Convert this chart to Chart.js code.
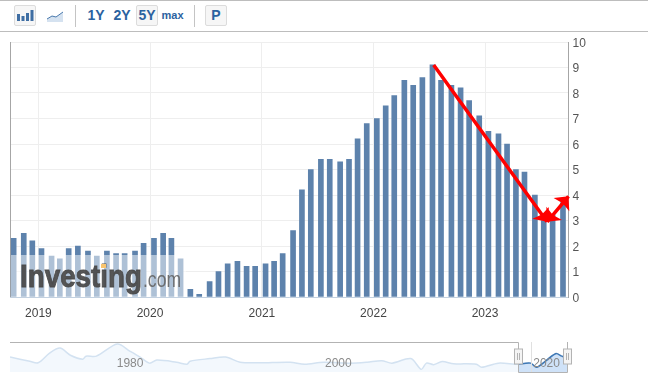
<!DOCTYPE html>
<html>
<head>
<meta charset="utf-8">
<script src="https://cdn.jsdelivr.net/npm/chart.js@4"></script>
<style>
body { margin: 0; background: #fff; font-family: "Liberation Sans", Arial, sans-serif; }
#page { position: relative; width: 648px; height: 379px; overflow: hidden; }
#page canvas { position: absolute; left: 0; }
.rule { position: absolute; left: 0; width: 648px; height: 1px; background: #bdbdbd; }
.sep { position: absolute; top: 5px; width: 1px; height: 22px; background: #c4c4c4; }
.btn { position: absolute; top: 5px; height: 21px; line-height: 21px; text-align: center; color: #2b62a0; font-size: 14px; font-weight: bold; box-sizing: border-box; }
.box { border: 1px solid #dcdcdc; background: #f6f6f6; border-radius: 2px; line-height: 19px; }
</style>
</head>
<body>
<div id="page">
  <div class="rule" style="top:0"></div>
  <div class="rule" style="top:31px"></div>
  <div class="btn box" style="left:14px;width:22px">
    <svg width="20" height="19" style="display:block"><path fill="#3f6ea3" d="M2 8h3v7H2zM6.500 10h3v5h-3zM11 7h3v8h-3zM15.500 4h3v11h-3z"/></svg>
  </div>
  <div class="btn" style="left:46px;width:18px">
    <svg width="18" height="21" style="display:block"><path fill="#d5e2f0" d="M1 14l5-3 4 1 7-5v10H1z"/><path fill="none" stroke="#4a79ad" d="M1 14l5-3 4 1 7-5"/></svg>
  </div>
  <div class="sep" style="left:75px"></div>
  <div class="btn" style="left:86px;width:20px">1Y</div>
  <div class="btn" style="left:112px;width:20px">2Y</div>
  <div class="btn box" style="left:136px;width:22px">5Y</div>
  <div class="btn" style="left:160px;width:25px;font-size:11px">max</div>
  <div class="sep" style="left:194px"></div>
  <div class="btn box" style="left:205px;width:22px">P</div>
  <canvas id="mainChart" width="648" height="335" style="top:0"></canvas>
  <canvas id="navChart" width="648" height="44" style="top:335px"></canvas>
</div>
<script>
// release dates of each monthly print
const releaseDates = [
    '2018-10-12', '2018-11-14', '2018-12-12',
    '2019-01-11', '2019-02-13', '2019-03-12', '2019-04-10', '2019-05-10', '2019-06-12',
    '2019-07-11', '2019-08-13', '2019-09-12', '2019-10-10', '2019-11-13', '2019-12-11',
    '2020-01-14', '2020-02-13', '2020-03-11', '2020-04-10', '2020-05-12', '2020-06-10',
    '2020-07-14', '2020-08-12', '2020-09-11', '2020-10-13', '2020-11-12', '2020-12-10',
    '2021-01-13', '2021-02-10', '2021-03-10', '2021-04-13', '2021-05-12', '2021-06-10',
    '2021-07-13', '2021-08-11', '2021-09-14', '2021-10-13', '2021-11-10', '2021-12-10',
    '2022-01-12', '2022-02-10', '2022-03-10', '2022-04-12', '2022-05-11', '2022-06-10',
    '2022-07-13', '2022-08-10', '2022-09-13', '2022-10-13', '2022-11-10', '2022-12-13',
    '2023-01-12', '2023-02-14', '2023-03-14', '2023-04-12', '2023-05-10', '2023-06-13',
    '2023-07-12', '2023-08-10', '2023-09-13'
];
const cpiValues = [
    2.3, 2.5, 2.2,
    1.9, 1.6, 1.5, 1.9, 2.0, 1.8, 1.6, 1.8, 1.7, 1.7, 1.8, 2.1,
    2.3, 2.5, 2.3, 1.5, 0.3, 0.1, 0.6, 1.0, 1.3, 1.4, 1.2, 1.2,
    1.3, 1.4, 1.7, 2.6, 4.2, 5.0, 5.4, 5.4, 5.3, 5.4, 6.2, 6.8,
    7.0, 7.5, 7.9, 8.5, 8.3, 8.6, 9.1, 8.5, 8.3, 8.2, 7.7, 7.1,
    6.5, 6.4, 6.0, 5.0, 4.9, 4.0, 3.0, 3.2, 3.7
];
const yearTicks = ['2019-01-01', '2020-01-01', '2021-01-01', '2022-01-01', '2023-01-01'];
const xRange = ['2018-09-30', '2023-10-01'];
const yRange = [0, 10];

// the hand drawn red arrows, date and value of each end
const arrowDates = ['2022-07-17', '2023-07-23', '2023-10-01'];
const arrowValues = [9.1, 2.95, 3.95];

// overview strip at the bottom
const navYears = [
    1970, 1971.9, 1972.7, 1973.8, 1974.8, 1975.8, 1977, 1977.3, 1978.3, 1980.3, 1981.5, 1982.5,
    1983.4, 1984.1, 1986, 1987, 1987.3, 1989.2, 1990.7, 1992.1, 1994, 1996.9, 1998.3, 2000.1,
    2002.7, 2004.3, 2005.7, 2006.7, 2008.5, 2009.5, 2010, 2010.7, 2011.5, 2012.6, 2014.8, 2015.3,
    2016.9, 2018.8, 2020, 2020.6, 2022.4, 2023, 2023.5
];
const navValues = [
    7.9, 5.7, 4.9, 10, 12.7, 8.9, 6.8, 8.4, 8.4, 14.8, 11.1, 7.9,
    4.7, 6.3, 5.2, 4.1, 5.7, 7.1, 7.9, 5.2, 4.9, 5.2, 4.1, 5.2,
    4.7, 5.2, 6, 4.7, 7.1, 1.4, 4.7, 3.9, 5.5, 4.4, 4.1, 2.5,
    4.7, 4.1, 4.7, 2.5, 9.7, 8.4, 7.3
];
const navLabels = ['1980', '2000', '2020'];
const navSelectFrom = 2018.8;

const toMs = s => Date.parse(s + 'T00:00:00Z');

function drawArrowHead(ctx, fromX, fromY, toX, toY, size) {
    const a = Math.atan2(toY - fromY, toX - fromX);
    ctx.beginPath();
    ctx.moveTo(toX, toY);
    ctx.lineTo(toX - size * Math.cos(a - 0.75), toY - size * Math.sin(a - 0.75));
    ctx.lineTo(toX - size * 0.6 * Math.cos(a), toY - size * 0.6 * Math.sin(a));
    ctx.lineTo(toX - size * Math.cos(a + 0.75), toY - size * Math.sin(a + 0.75));
    ctx.closePath();
    ctx.fill();
}

const leftEdge = {
    id: 'leftEdge',
    beforeDatasetsDraw(chart) {
        const { ctx, chartArea: { left, top, bottom } } = chart;
        ctx.save();
        ctx.strokeStyle = '#a6a6a6';
        ctx.beginPath();
        ctx.moveTo(left + 0.5, top);
        ctx.lineTo(left + 0.5, bottom);
        ctx.stroke();
        ctx.restore();
    }
};

// logo sits on a half white plate over the first bars
const watermark = {
    id: 'watermark',
    afterDatasetsDraw(chart) {
        const { ctx, chartArea: { bottom } } = chart;
        ctx.save();
        ctx.fillStyle = 'rgba(255,255,255,0.5)';
        ctx.fillRect(11, 255, 175, bottom - 255);
        ctx.textAlign = 'left';
        ctx.textBaseline = 'alphabetic';
        ctx.fillStyle = ctx.strokeStyle = 'rgba(72,72,72,0.92)';
        ctx.lineWidth = 0.9;
        ctx.font = 'bold 32px "Liberation Sans"';
        ctx.fillText('Investing', 20, 287, 122);
        ctx.strokeText('Investing', 20, 287, 122);
        ctx.fillStyle = '#f9c56f';
        ctx.fillRect(101, 264, 5, 4);
        ctx.fillStyle = 'rgba(100,100,100,0.9)';
        ctx.font = '22px "Liberation Sans"';
        ctx.fillText('.com', 143, 287, 38);
        ctx.restore();
    }
};

const redArrows = {
    id: 'redArrows',
    afterDraw(chart) {
        const { ctx, scales: { x, y } } = chart;
        const px = arrowDates.map(d => x.getPixelForValue(toMs(d)));
        const py = arrowValues.map(v => y.getPixelForValue(v));
        ctx.save();
        ctx.strokeStyle = ctx.fillStyle = '#ff0000';
        ctx.lineWidth = 3.5;
        ctx.beginPath();
        ctx.moveTo(px[0], py[0]);
        ctx.lineTo(px[1], py[1]);
        ctx.moveTo(px[1], py[1]);
        ctx.lineTo(px[2], py[2]);
        ctx.stroke();
        drawArrowHead(ctx, px[0], py[0], px[1], py[1], 15);
        drawArrowHead(ctx, px[2], py[2], px[1], py[1], 15);
        drawArrowHead(ctx, px[1], py[1], px[2], py[2], 15);
        ctx.restore();
    }
};

new Chart(document.getElementById('mainChart').getContext('2d'), {
    type: 'bar',
    data: {
        datasets: [{
            data: releaseDates.map((d, i) => ({ x: toMs(d), y: cpiValues[i] })),
            backgroundColor: '#5d82ac',
            barThickness: 5
        }]
    },
    options: {
        responsive: false,
        animation: false,
        layout: { padding: { left: 10, top: 42 } },
        plugins: { legend: { display: false }, tooltip: { enabled: false } },
        scales: {
            x: {
                type: 'linear',
                offset: false,
                min: toMs(xRange[0]),
                max: toMs(xRange[1]),
                afterBuildTicks(scale) { scale.ticks = yearTicks.map(d => ({ value: toMs(d) })); },
                afterFit(scale) { scale.height = 38; },
                grid: { color: '#eeeeee', drawTicks: false, offset: false },
                border: { color: '#c3d1e0' },
                ticks: {
                    autoSkip: false,
                    maxRotation: 0,
                    padding: 9,
                    color: '#444',
                    font: { family: 'Liberation Sans', size: 12 },
                    callback: v => String(new Date(v).getUTCFullYear())
                }
            },
            y: {
                position: 'right',
                min: yRange[0],
                max: yRange[1],
                afterFit(scale) { scale.width = 79.5; },
                grid: { color: '#eeeeee', drawTicks: false },
                border: { color: '#a6a6a6' },
                ticks: {
                    stepSize: 1,
                    padding: 4,
                    labelOffset: 1.5,
                    color: '#555',
                    font: { family: 'Liberation Sans', size: 12 }
                }
            }
        }
    },
    plugins: [leftEdge, watermark, redArrows]
});

const navFrame = {
    id: 'navFrame',
    afterDraw(chart) {
        const { ctx, chartArea: { left, right, top, bottom }, scales: { x } } = chart;
        const sx = Math.round(x.getPixelForValue(navSelectFrom)) + 0.5;
        const ex = Math.round(right) + 0.5;
        ctx.save();
        ctx.font = '12px "Liberation Sans"';
        ctx.fillStyle = '#8a8a8a';
        ctx.textAlign = 'center';
        ctx.textBaseline = 'middle';
        navLabels.forEach(l => ctx.fillText(l, x.getPixelForValue(Number(l)) + 16, 29));
        ctx.strokeStyle = '#b3b3b3';
        ctx.beginPath();
        ctx.moveTo(left, top + 0.5);
        ctx.lineTo(sx, top + 0.5);
        ctx.lineTo(sx, bottom + 0.5);
        ctx.lineTo(ex, bottom + 0.5);
        ctx.lineTo(ex, top);
        ctx.stroke();
        [sx, ex].forEach(hx => {
            ctx.fillStyle = '#f4f4f4';
            ctx.fillRect(hx - 4, 14, 8, 15);
            ctx.strokeRect(hx - 4, 14, 8, 15);
            ctx.beginPath();
            ctx.moveTo(hx - 1, 18);
            ctx.lineTo(hx - 1, 25);
            ctx.moveTo(hx + 1, 18);
            ctx.lineTo(hx + 1, 25);
            ctx.stroke();
        });
        ctx.restore();
    }
};

const navGuide = {
    id: 'navGuide',
    afterDatasetsDraw(chart) {
        const { ctx, chartArea: { top, bottom }, scales: { x } } = chart;
        const gx = Math.round(x.getPixelForValue(2020)) + 0.5;
        ctx.save();
        ctx.strokeStyle = '#e0e0e0';
        ctx.beginPath();
        ctx.moveTo(gx, top);
        ctx.lineTo(gx, bottom);
        ctx.stroke();
        ctx.restore();
    }
};

const navPoints = navYears.map((yr, i) => ({ x: yr, y: navValues[i] }));

new Chart(document.getElementById('navChart').getContext('2d'), {
    type: 'line',
    data: {
        datasets: [
            {
                data: navPoints.filter(p => p.x >= navSelectFrom),
                borderColor: '#3f78b5',
                borderWidth: 1.5,
                backgroundColor: '#cfe2f8',
                fill: 'origin',
                pointRadius: 0,
                tension: 0.3
            },
            {
                data: navPoints,
                borderColor: '#d3e2f1',
                borderWidth: 1.5,
                backgroundColor: '#f3f8fd',
                fill: 'origin',
                pointRadius: 0,
                tension: 0.3
            }
        ]
    },
    options: {
        responsive: false,
        animation: false,
        layout: { padding: { left: 10, right: 81, top: 7, bottom: 7 } },
        plugins: { legend: { display: false }, tooltip: { enabled: false } },
        scales: {
            x: { type: 'linear', display: false, min: 1970, max: 2023.5 },
            y: { display: false, min: 0, max: 15.9 }
        }
    },
    plugins: [navGuide, navFrame]
});
</script>
</body>
</html>
